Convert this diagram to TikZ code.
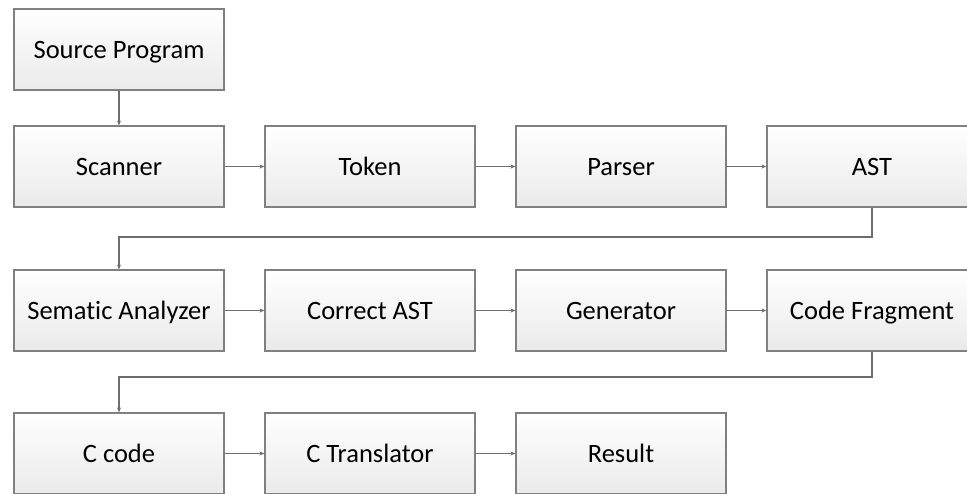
\documentclass[tikz,border=0pt]{standalone}
\usepackage{fontspec}
\setmainfont{Carlito}[Ligatures=NoCommon]
\usetikzlibrary{arrows.meta,calc}
\definecolor{boxline}{RGB}{128,128,128}
\definecolor{boxbot}{RGB}{234,234,234}
\definecolor{conn}{RGB}{110,110,110}
\tikzset{
  stagebox/.style={draw=boxline, line width=1.1pt, top color=white, bottom color=boxbot,
    minimum width=210pt, minimum height=81pt, inner sep=0pt,
    text height=17pt, text depth=0pt,
    font=\fontsize{26.5}{30}\selectfont, text=black},
  conn/.style={draw=conn, line width=1.2pt, -{Stealth[length=5pt,width=4pt]}}
}
\begin{document}
\begin{tikzpicture}[x=1pt,y=-1pt]
\useasboundingbox (0,0) rectangle (967,493);
\clip (0,0) rectangle (967,493);
\node[stagebox] (src) at (119,49.5) {Source Program};
\node[stagebox] (scan) at (119,166.5) {Scanner};
\node[stagebox] (tok) at (370,166.5) {Token};
\node[stagebox] (pars) at (621,166.5) {Parser};
\node[stagebox] (ast) at (872,166.5) {AST};
\node[stagebox] (sem) at (119,310.5) {Sematic Analyzer};
\node[stagebox] (cast) at (370,310.5) {Correct AST};
\node[stagebox] (gen) at (621,310.5) {Generator};
\node[stagebox] (frag) at (872,310.5) {Code Fragment};
\node[stagebox] (ccode) at (119,453.5) {C code};
\node[stagebox] (ctrans) at (370,453.5) {C Translator};
\node[stagebox] (res) at (621,453.5) {Result};
\coordinate (m1) at (872,237);
\coordinate (m2) at (872,377);
\draw[conn] (src) -- (scan);
\draw[conn] (scan) -- (tok);
\draw[conn] (tok) -- (pars);
\draw[conn] (pars) -- (ast);
\draw[conn] (ast.south) -- (m1) -| (sem.north);
\draw[conn] (sem) -- (cast);
\draw[conn] (cast) -- (gen);
\draw[conn] (gen) -- (frag);
\draw[conn] (frag.south) -- (m2) -| (ccode.north);
\draw[conn] (ccode) -- (ctrans);
\draw[conn] (ctrans) -- (res);
\end{tikzpicture}
\end{document}
